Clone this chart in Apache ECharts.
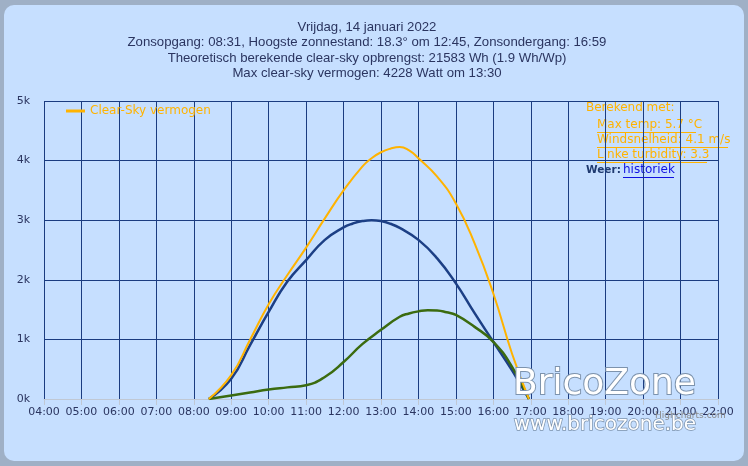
<!DOCTYPE html>
<html>
<head>
<meta charset="utf-8">
<script src="https://cdn.jsdelivr.net/npm/echarts@6/dist/echarts.min.js"></script>
<style>
  html, body { margin: 0; padding: 0; background: #9fb0c6; }
  #card { position: absolute; left: 4px; top: 5px; width: 740px; height: 456px;
          background: #c6dfff; border-radius: 10px; overflow: hidden; }
  #chart { position: absolute; left: -4px; top: -5px; width: 748px; height: 466px; }
</style>
</head>
<body>
<div id="card"><div id="chart"></div></div>
<script>
// hours as decimal values, watts
var clearSkyTimes = [8.4, 9, 9.5, 10, 10.5, 11, 11.5, 12, 12.5, 12.75, 13, 13.25, 13.5, 13.75, 14, 14.5, 15, 15.5, 16, 16.5, 16.95]
var clearSkyValues = [0, 400, 990, 1590, 2080, 2540, 3030, 3500, 3900, 4040, 4140, 4200, 4228, 4170, 4040, 3730, 3280, 2610, 1770, 760, 0]

var blueTimes = [8.4, 9, 9.5, 10, 10.5, 11, 11.5, 12, 12.25, 12.5, 12.75, 13, 13.25, 13.5, 14, 14.5, 15, 15.5, 16, 16.5, 16.95]
var blueValues = [0, 340, 900, 1460, 1970, 2330, 2670, 2880, 2945, 2985, 3000, 2985, 2940, 2870, 2670, 2360, 1940, 1440, 960, 480, 0]

var greenTimes = [8.4, 9, 9.5, 10, 10.5, 11, 11.5, 12, 12.5, 13, 13.5, 13.75, 14, 14.25, 14.5, 14.75, 15, 15.5, 16, 16.5, 16.95]
var greenValues = [0, 60, 110, 160, 195, 230, 370, 620, 920, 1160, 1380, 1435, 1470, 1490, 1485, 1455, 1410, 1210, 960, 540, 0]

var yTicks = ['0k', '1k', '2k', '3k', '4k', '5k']

var titleLines = [
  'Vrijdag, 14 januari 2022',
  'Zonsopgang: 08:31, Hoogste zonnestand: 18.3° om 12:45, Zonsondergang: 16:59',
  'Theoretisch berekende clear-sky opbrengst: 21583 Wh (1.9 Wh/Wp)',
  'Max clear-sky vermogen: 4228 Watt om 13:30'
]
var infoLines = ['Max temp: 5.7 °C', 'Windsnelheid: 4.1 m/s', 'Linke turbidity: 3.3']

function pairs(xs, ys) {
  return xs.map(function(x, i) { return [x, ys[i]] })
}

function pad(n) { return (n < 10 ? '0' : '') + n }

var gridColor = '#1b3c80'
var textColor = '#2b3560'
var orange = '#ffb300'
var font = 'DejaVu Sans'
var titleFont = '"Liberation Sans", sans-serif'

var graphics = []
titleLines.forEach(function(t, i) {
  graphics.push({
    type: 'text', x: 367, y: 21 + i * 15.3,
    style: { text: t, fill: textColor, font: '13.2px ' + titleFont, textAlign: 'center' }
  })
})
graphics.push({
  type: 'text', left: 586, top: 102,
  style: { text: 'Berekend met:', fill: orange, font: '12px ' + font }
})
infoLines.forEach(function(t, i) {
  graphics.push({
    type: 'text', left: 597, top: 119 + i * 15,
    style: { text: t, fill: orange, font: '12px ' + font }
  })
})
var underlineWidths = [99, 131, 110]
underlineWidths.forEach(function(w, i) {
  graphics.push({
    type: 'line', shape: { x1: 597, y1: 132.5 + i * 15, x2: 597 + w, y2: 132.5 + i * 15 },
    style: { stroke: orange, lineWidth: 1 }
  })
})
graphics.push({
  type: 'text', left: 586, top: 165,
  style: { text: 'Weer:', fill: '#1f3a70', font: 'bold 10.5px ' + font }
})
graphics.push({
  type: 'text', left: 623, top: 164,
  style: { text: 'historiek', fill: '#1010e0', font: '12px ' + font }
})
graphics.push({
  type: 'line', shape: { x1: 623, y1: 177.5, x2: 674, y2: 177.5 },
  style: { stroke: '#1010e0', lineWidth: 1 }
})
// watermark
graphics.push({
  type: 'text', left: 512, top: 366, z: 100,
  style: { text: 'BricoZone', fill: '#ffffff', stroke: '#7d93ad', lineWidth: 2,
           font: '36px "DejaVu Sans"' }
})
graphics.push({
  type: 'text', left: 513, top: 414, z: 100,
  style: { text: 'www.bricozone.be', fill: '#ffffff', stroke: '#7d93ad', lineWidth: 1.5,
           font: '20px "DejaVu Sans"' }
})
graphics.push({
  type: 'text', left: 655, top: 411, z: 99,
  style: { text: 'Highcharts.com', fill: '#8a8a8a', font: '9px ' + font }
})

var chart = echarts.init(document.getElementById('chart'), null, { renderer: 'canvas' })
chart.setOption({
  backgroundColor: 'transparent',
  animation: false,
  textStyle: { fontFamily: font },
  grid: { left: 44, right: 30, top: 101, bottom: 67 },
  legend: {
    data: ['Clear-Sky vermogen'],
    left: 61, top: 100,
    itemWidth: 19, itemHeight: 3, itemGap: 8,
    icon: 'rect',
    textStyle: { color: orange, fontSize: 12, fontFamily: font }
  },
  xAxis: {
    type: 'value', min: 4, max: 22, interval: 1,
    axisLine: { show: true, lineStyle: { color: '#c0c8d4' } },
    axisTick: { show: true, length: 6, lineStyle: { color: '#c0c8d4' } },
    axisLabel: {
      color: textColor, fontSize: 11, margin: 8,
      formatter: function(v) { return pad(Math.round(v)) + ':00' }
    },
    splitLine: { show: true, lineStyle: { color: gridColor, width: 1 } }
  },
  yAxis: {
    type: 'value', min: 0, max: 5000, interval: 1000,
    axisLine: { show: false },
    axisTick: { show: false },
    axisLabel: {
      color: textColor, fontSize: 11, margin: 14,
      formatter: function(v) { return yTicks[v / 1000] }
    },
    splitLine: { show: true, lineStyle: { color: gridColor, width: 1 } }
  },
  series: [{
    name: 'Clear-Sky vermogen', type: 'line', smooth: 0.5, symbol: 'none',
    data: pairs(clearSkyTimes, clearSkyValues),
    lineStyle: { color: orange, width: 2 }, itemStyle: { color: orange }, z: 3
  }, {
    name: 'Verwacht', type: 'line', smooth: 0.5, symbol: 'none',
    data: pairs(blueTimes, blueValues),
    lineStyle: { color: '#1c3f85', width: 2.5 }, itemStyle: { color: '#1c3f85' }, z: 2
  }, {
    name: 'Opbrengst', type: 'line', smooth: 0.5, symbol: 'none',
    data: pairs(greenTimes, greenValues),
    lineStyle: { color: '#3b6b0f', width: 2.5 }, itemStyle: { color: '#3b6b0f' }, z: 2
  }],
  graphic: graphics
})
</script>
</body>
</html>
